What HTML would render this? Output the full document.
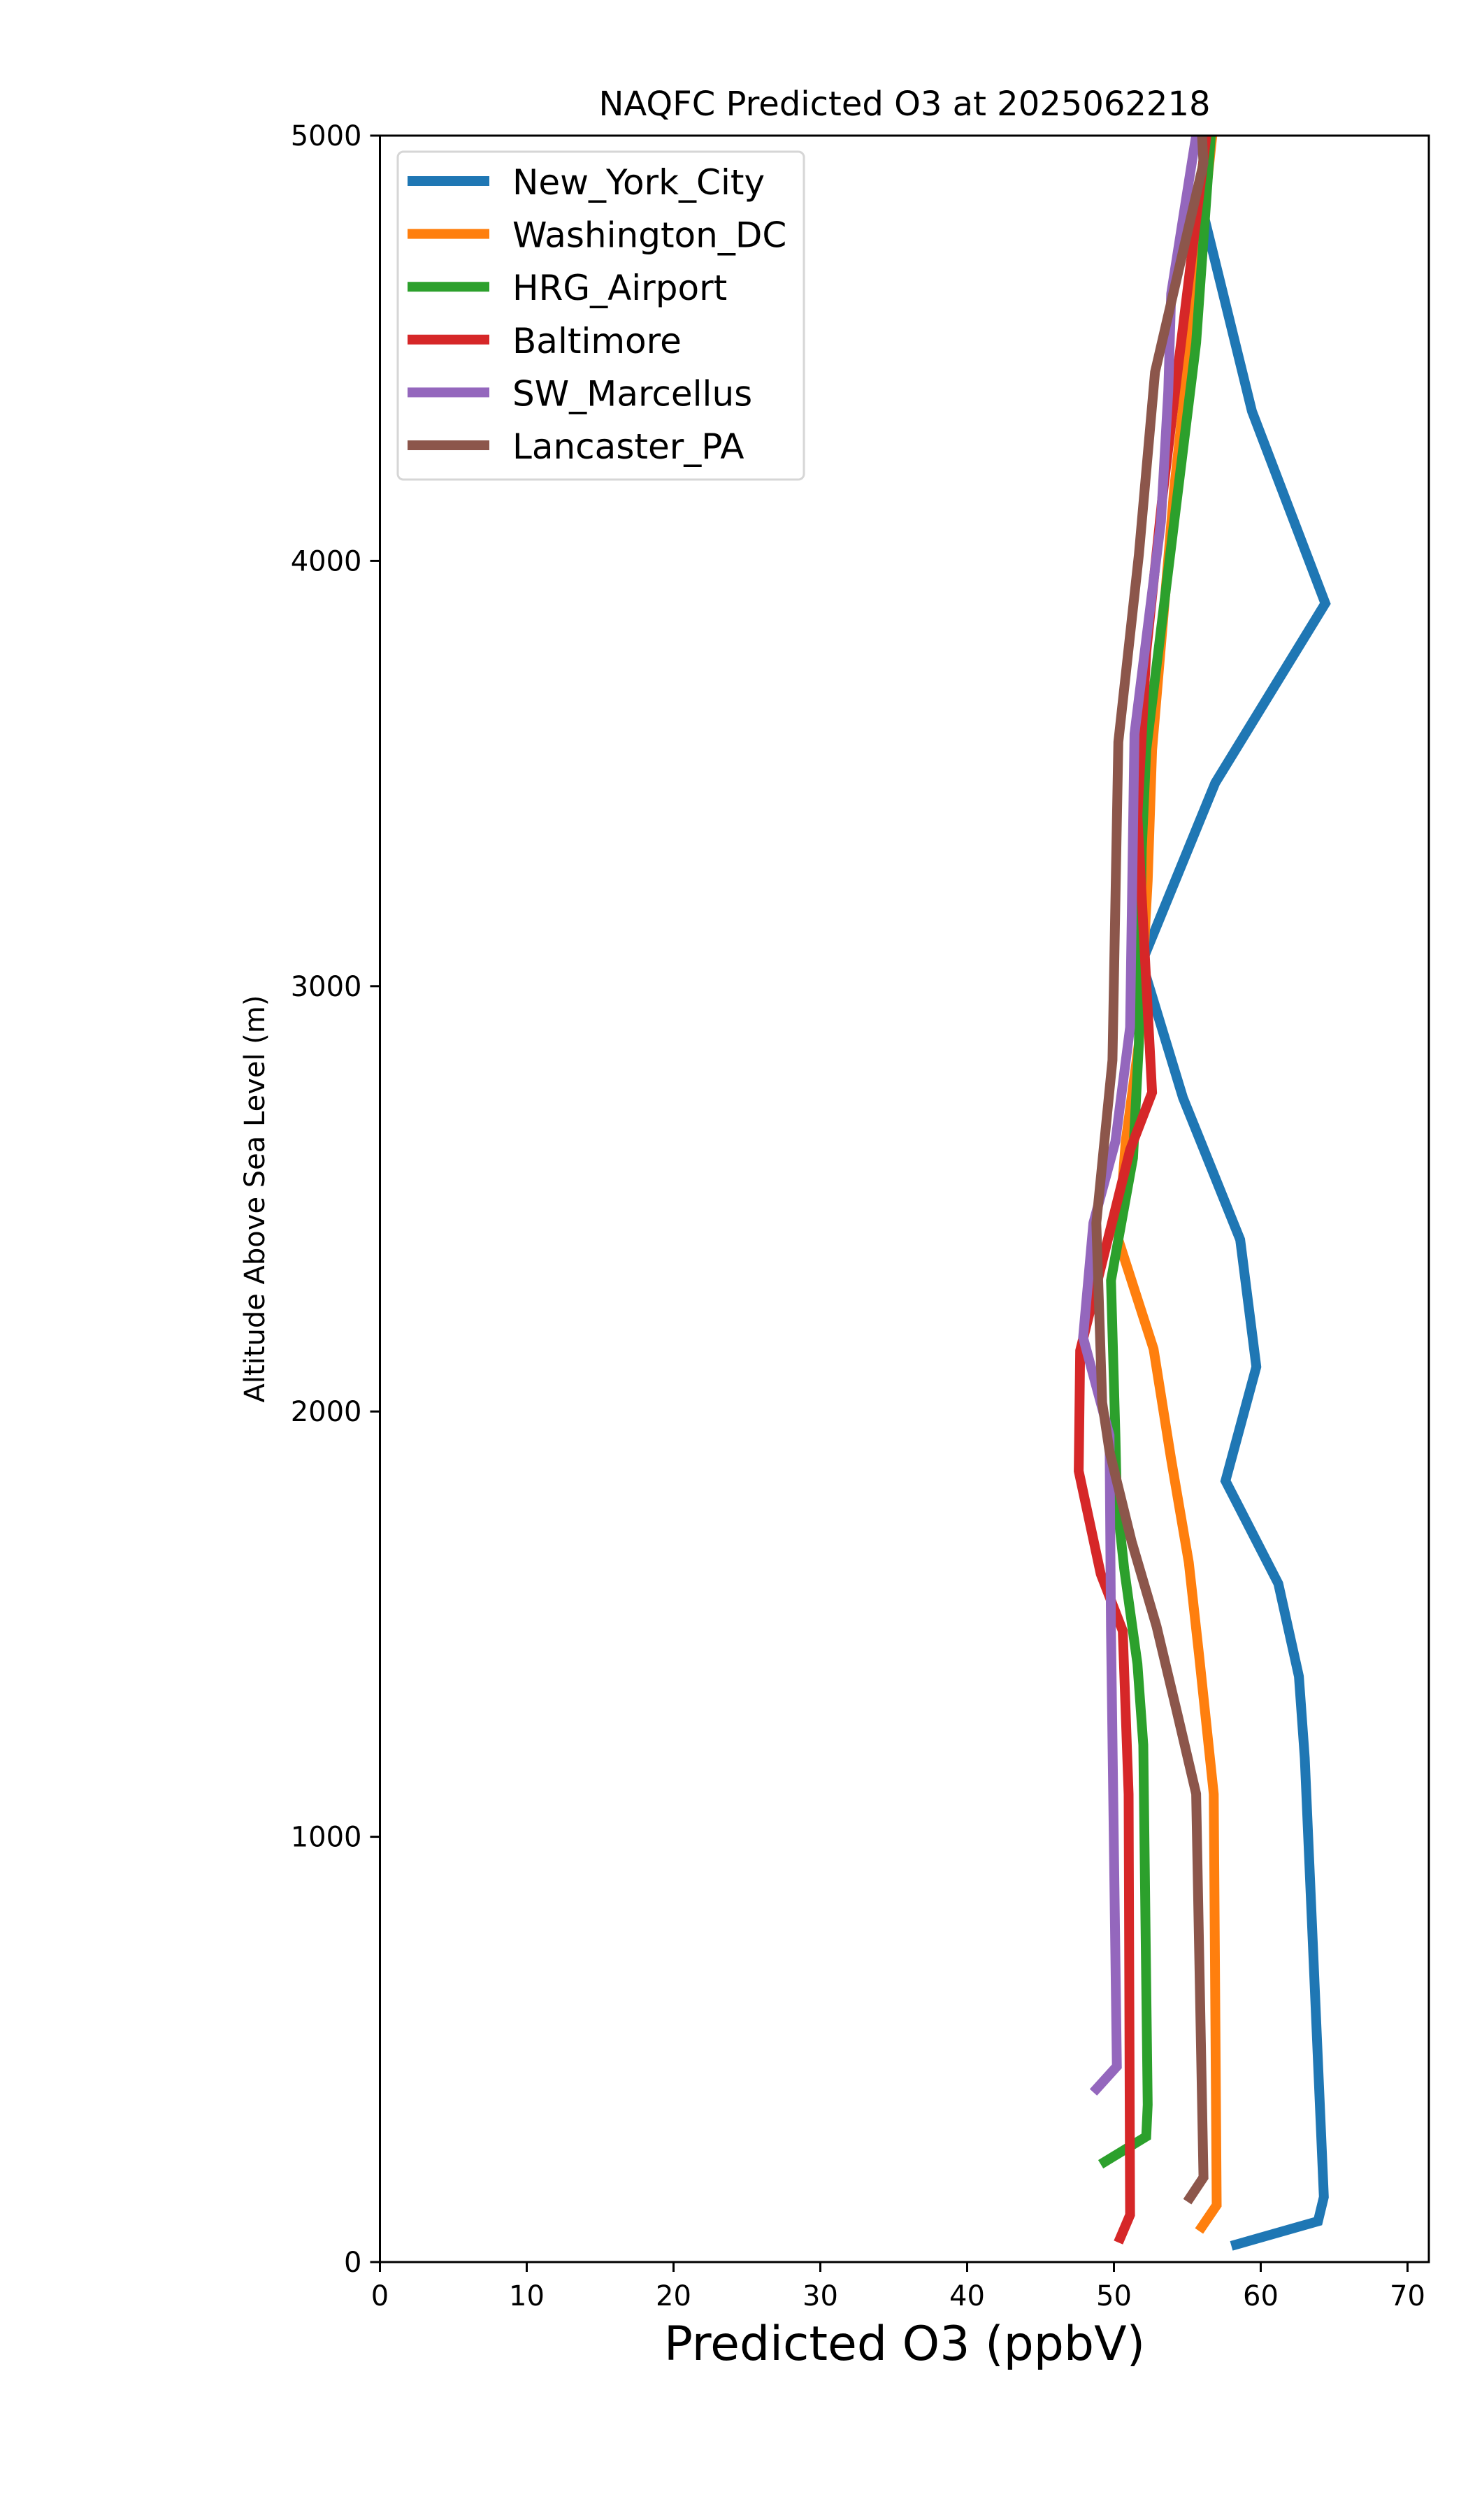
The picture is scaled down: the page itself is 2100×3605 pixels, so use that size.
<!DOCTYPE html>
<html><head><meta charset="utf-8"><style>
html,body{margin:0;padding:0;background:#fff;}
svg text{font-family:"DejaVu Sans","Liberation Sans",sans-serif;fill:#000;}
</style></head><body>
<svg id="chart" xmlns="http://www.w3.org/2000/svg" width="2100" height="3600" viewBox="0 0 2100 3600">
<rect x="0" y="0" width="2100" height="3600" fill="#fff"/>
<text x="1294" y="165" font-size="48" text-anchor="middle">NAQFC Predicted O3 at 2025062218</text>
<g id="plot"></g>
<rect x="543.5" y="194" width="1500.5" height="3042" fill="none" stroke="#000" stroke-width="3"/>
<g id="xticks"></g>
<g id="yticks"></g>
<text x="1294" y="3376" font-size="68" text-anchor="middle">Predicted O3 (ppbV)</text>
<text transform="translate(378,1715) rotate(-90)" font-size="40" text-anchor="middle">Altitude Above Sea Level (m)</text>
<g id="legend"></g>
</svg>
<script>
const seriesNames = ["New_York_City","Washington_DC","HRG_Airport","Baltimore","SW_Marcellus","Lancaster_PA"];
const seriesColors = ["#1f77b4","#ff7f0e","#2ca02c","#d62728","#9467bd","#8c564b"];
const nycO3 = [58.0,63.9,64.3,63.0,62.6,61.2,57.6,59.7,58.6,54.7,51.9,56.9,64.4,59.4,55.8,56.3];
const nycAlt = [38,96,153,1185,1377,1595,1837,2105,2404,2738,3056,3478,3900,4352,4858,5000];
const dcO3 = [55.8,57.0,56.8,55.8,55.1,53.9,52.7,50.3,50.8,51.7,52.3,52.6,54.1,56.7];
const dcAlt = [73,134,1100,1427,1645,1887,2147,2404,2635,2865,3248,3555,4168,5000];
const hrgO3 = [49.1,52.2,52.3,52.0,51.6,50.7,50.2,50.1,49.8,51.3,51.7,51.9,52.2,55.6,56.6];
const hrgAlt = [230,295,370,1216,1407,1630,1790,1944,2308,2596,2865,3324,3555,4513,5000];
const balO3 = [50.3,51.1,51.0,50.6,49.1,47.6,47.7,50.0,51.1,52.6,51.6,52.2,53.3,54.3,56.3];
const balAlt = [46,111,1100,1484,1618,1860,2143,2462,2615,2750,3401,3785,4149,4436,5000];
const swmO3 = [48.6,50.2,49.8,49.7,47.9,48.6,50.1,51.1,51.4,53.2,53.7,53.9,55.3,55.6];
const swmAlt = [399,460,1484,1944,2174,2443,2635,2903,3593,4092,4398,4628,4935,5000];
const lanO3 = [55.0,56.1,55.6,54.3,52.9,51.2,49.7,49.2,48.8,49.9,50.3,51.7,52.8,56.1,56.0];
const lanAlt = [142,199,1101,1292,1495,1695,1906,2021,2443,2826,3574,4015,4444,4935,5000];
const xTicks = [0,10,20,30,40,50,60,70];
const yTicks = [0,1000,2000,3000,4000,5000];

const NS="http://www.w3.org/2000/svg";
const X0=543.5, XR=2044, Y0=3236, YT=194, XMAX=(2044-543.5)/21;
function xs(v){return X0 + v/XMAX*(XR-X0);}
function ys(v){return Y0 - v/5000*(Y0-YT);}
function mk(tag,attrs){const e=document.createElementNS(NS,tag);for(const k in attrs)e.setAttribute(k,attrs[k]);return e;}

const plot=document.getElementById('plot');
const allX=[nycO3,dcO3,hrgO3,balO3,swmO3,lanO3];
const allY=[nycAlt,dcAlt,hrgAlt,balAlt,swmAlt,lanAlt];
const clip=mk('clipPath',{id:'cp'});
clip.appendChild(mk('rect',{x:X0,y:YT,width:XR-X0,height:Y0-YT}));
plot.appendChild(clip);
for(let s=0;s<seriesNames.length;s++){
  const pts=allX[s].map((v,i)=>xs(v).toFixed(1)+','+ys(allY[s][i]).toFixed(1)).join(' ');
  const pl=mk('polyline',{points:pts,fill:'none',stroke:seriesColors[s],'stroke-width':14,'stroke-linejoin':'miter','stroke-linecap':'butt','clip-path':'url(#cp)'});
  
  
  plot.appendChild(pl);
}
const xg=document.getElementById('xticks');
xTicks.forEach(t=>{
  const l=mk('line',{x1:xs(t),x2:xs(t),y1:Y0,y2:Y0+14,stroke:'#000','stroke-width':3});
  
  
  xg.appendChild(l);
  const tx=mk('text',{x:xs(t),y:Y0+62,'font-size':40,'text-anchor':'middle'});
  tx.textContent=t;
  
  
  xg.appendChild(tx);
});
const yg=document.getElementById('yticks');
yTicks.forEach(t=>{
  const l=mk('line',{x1:X0-14,x2:X0,y1:ys(t),y2:ys(t),stroke:'#000','stroke-width':3});
  
  
  yg.appendChild(l);
  const tx=mk('text',{x:X0-26,y:ys(t)+14,'font-size':40,'text-anchor':'end'});
  tx.textContent=t;
  
  
  yg.appendChild(tx);
});
const lg=document.getElementById('legend');
const box=mk('rect',{x:569,y:217,width:581,height:469,rx:8,fill:'#fff','fill-opacity':0.8,stroke:'#d6d6d6','stroke-width':3});


lg.appendChild(box);
seriesNames.forEach((n,i)=>{
  const y=259+i*75.6;
  const g=mk('g',{});
  
  
  g.appendChild(mk('line',{x1:583,x2:700,y1:y,y2:y,stroke:seriesColors[i],'stroke-width':14}));
  const tx=mk('text',{x:733,y:y+19,'font-size':50});
  tx.textContent=n;
  g.appendChild(tx);
  lg.appendChild(g);
});
</script>
</body></html>
